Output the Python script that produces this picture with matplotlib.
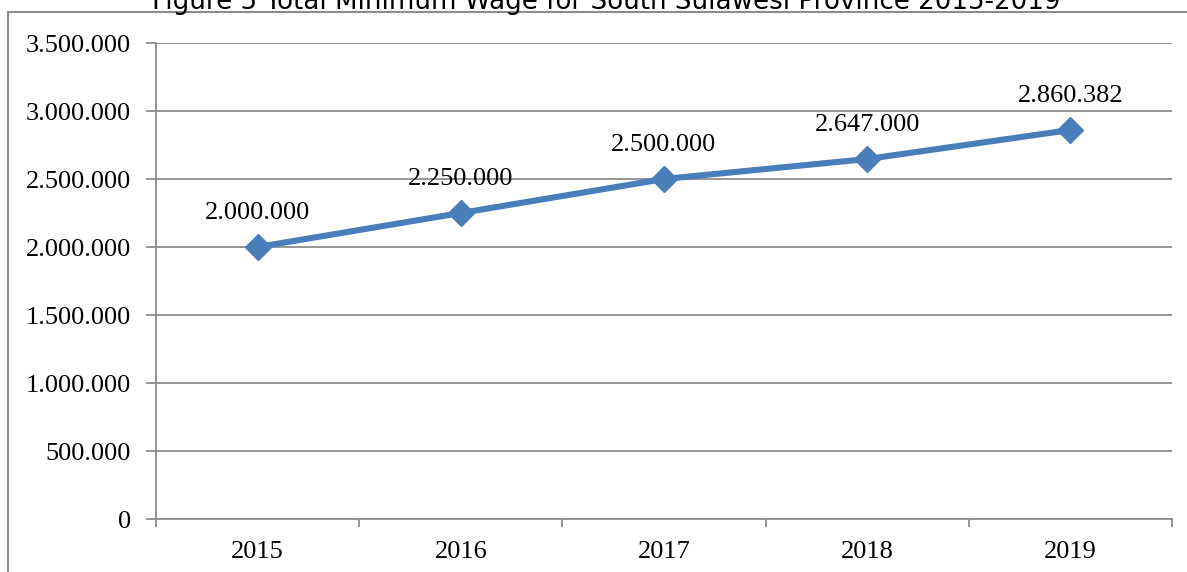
import matplotlib
matplotlib.use("Agg")
import matplotlib.pyplot as plt
from matplotlib.patches import Rectangle
from matplotlib.ticker import FuncFormatter, FixedLocator

years = ["2015", "2016", "2017", "2018", "2019"]
wages = [2000000, 2250000, 2500000, 2647000, 2860382]
data_labels = ["2.000.000", "2.250.000", "2.500.000", "2.647.000", "2.860.382"]
title = "Figure 5 Total Minimum Wage for South Sulawesi Province 2015-2019"

W, H = 1187, 572
fig = plt.figure(figsize=(W / 100, H / 100), dpi=100)
serif = "Liberation Serif"
grid_c = "#8c8c8c"
line_c = "#4a7ebb"

ax = fig.add_axes([156 / W, 1 - 519 / H, (1172 - 156) / W, (519 - 43) / H])

x = list(range(len(years)))
ax.plot(x, wages, color=line_c, lw=4.4, marker="D", ms=13, mfc=line_c, mec=line_c,
        solid_joinstyle="round", zorder=3, clip_on=False)
for xi, yi, lab in zip(x, wages, data_labels):
    ax.annotate(lab, (xi, yi), xytext=(0, 24.5), textcoords="offset points",
                ha="center", va="center", fontsize=19, family=serif, color="black")

ax.set_xlim(-0.5, len(years) - 0.5)
ax.set_ylim(0, 3500000)
ax.yaxis.set_major_locator(FixedLocator(range(0, 3500001, 500000)))
ax.yaxis.set_major_formatter(FuncFormatter(lambda v, p: "0" if v == 0 else f"{int(v):,}".replace(",", ".")))
ax.grid(axis="y", color=grid_c, lw=1.3)
ax.set_axisbelow(True)

ax.set_xticks([i - 0.5 for i in range(len(years) + 1)])
ax.set_xticklabels([])
ax.set_xticks(x, minor=True)
ax.set_xticklabels(years, minor=True)
ax.tick_params(axis="x", which="major", direction="out", length=6, width=1.3, color=grid_c)
ax.tick_params(axis="x", which="minor", length=0, pad=16, labelsize=19)
ax.tick_params(axis="y", direction="out", length=7, width=1.3, color=grid_c, pad=11, labelsize=19)
for lab in ax.get_xticklabels(minor=True) + ax.get_yticklabels():
    lab.set_family(serif)

for s in ["top", "right"]:
    ax.spines[s].set_visible(False)
for s in ["left", "bottom"]:
    ax.spines[s].set_color(grid_c)
    ax.spines[s].set_linewidth(1.3)

fig.patches.append(Rectangle((8 / W, -0.1), 1.2, 1 - 12 / H + 0.1, transform=fig.transFigure,
                             fill=False, edgecolor=grid_c, lw=1.5))
fig.text(606 / W, 1 - 9 / H, title, ha="center", va="baseline", fontsize=18.8, family="DejaVu Sans")

fig.savefig("out.png", dpi=100)
